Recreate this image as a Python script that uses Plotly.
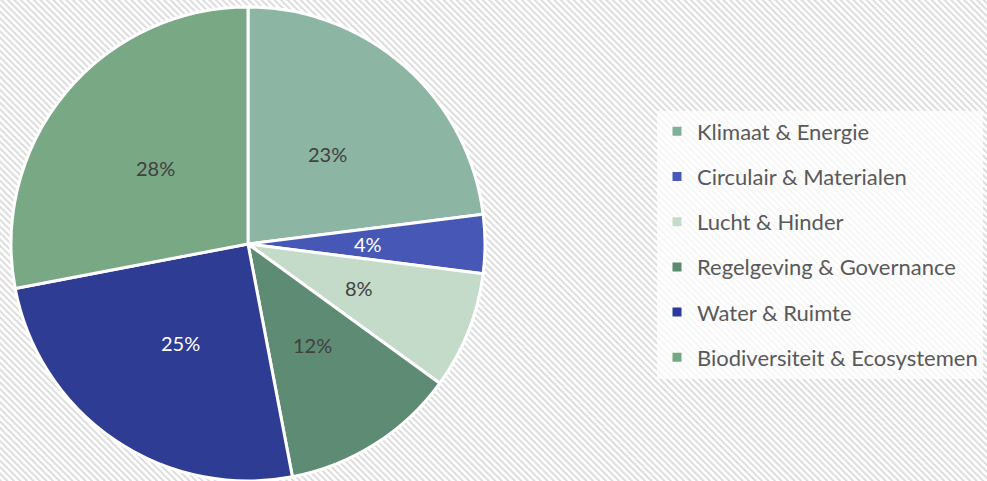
import base64
import math
import plotly.graph_objects as go

categories = ["Klimaat & Energie", "Circulair & Materialen", "Lucht & Hinder",
              "Regelgeving & Governance", "Water & Ruimte", "Biodiversiteit & Ecosystemen"]
values = [23, 4, 8, 12, 25, 28]
slice_colors = ["#8cb5a3", "#4657b6", "#c4dbc9", "#5e8b73", "#2e3c93", "#79a885"]
legend_colors = ["#80af9b", "#4a58b8", "#c6dccb", "#5a8a70", "#2b3a9a", "#74a882"]
text_colors = ["#404040", "#ffffff", "#404040", "#404040", "#ffffff", "#404040"]

W, H = 987, 481
font_family = "Lato, 'Open Sans', sans-serif"

# pie domain (paper fractions)
dom_x = [11 / W, 485 / W]
dom_y = [0, 474 / H]
label_radius_frac = 0.505

# diagonal hatch background
svg = f'''<svg xmlns="http://www.w3.org/2000/svg" width="{W}" height="{H}">
<defs><pattern id="p" width="4.6" height="4.6" patternUnits="userSpaceOnUse" patternTransform="rotate(-45)">
<rect width="4.6" height="4.6" fill="#ffffff"/><rect width="1.9" height="4.6" fill="#dcdcdc"/></pattern></defs>
<rect width="{W}" height="{H}" fill="url(#p)"/></svg>'''
bg_src = "data:image/svg+xml;base64," + base64.b64encode(svg.encode()).decode()

fig = go.Figure()
fig.add_trace(go.Pie(
    labels=categories, values=values, sort=False, direction="clockwise", rotation=0,
    marker=dict(colors=slice_colors, line=dict(color="#ffffff", width=3)),
    textinfo="none",
    domain=dict(x=dom_x, y=dom_y),
    showlegend=False, hoverinfo="label+percent",
))

for name, col in zip(categories, legend_colors):
    fig.add_trace(go.Scatter(
        x=[None], y=[None], mode="markers", name=name, legendgroup=name,
        marker=dict(symbol="square", size=9, color=col),
    ))

# percentage labels placed at half radius along each slice's mid-angle
total = sum(values)
cx = (dom_x[0] + dom_x[1]) / 2 * W
cy = (1 - (dom_y[0] + dom_y[1]) / 2) * H
r = min((dom_x[1] - dom_x[0]) * W, (dom_y[1] - dom_y[0]) * H) / 2
annotations = []
cum = 0
for v, tc in zip(values, text_colors):
    mid = (cum + v / 2) / total * 2 * math.pi
    cum += v
    d = label_radius_frac * r
    px = cx + d * math.sin(mid)
    py = cy - d * math.cos(mid)
    annotations.append(dict(
        x=px / W, y=1 - py / H, xref="paper", yref="paper", showarrow=False,
        text=f"{round(v / total * 100)}%", xanchor="center", yanchor="middle",
        font=dict(family=font_family, size=20, color=tc),
    ))

fig.update_layout(
    width=W, height=H, margin=dict(l=0, r=0, t=0, b=0),
    paper_bgcolor="#ffffff", plot_bgcolor="rgba(0,0,0,0)",
    xaxis=dict(visible=False), yaxis=dict(visible=False),
    images=[dict(source=bg_src, xref="paper", yref="paper", x=0, y=1, sizex=1, sizey=1,
                 sizing="stretch", layer="below", xanchor="left", yanchor="top")],
    annotations=annotations,
    legend=dict(x=657 / W, y=1 - 110.5 / H, xanchor="left", yanchor="top",
                bgcolor="rgba(255,255,255,0.75)", borderwidth=0,
                font=dict(family=font_family, size=22, color="#595959"),
                tracegroupgap=13.6, itemwidth=30),
    font=dict(family=font_family),
)

fig.write_html("out.html", config={"displayModeBar": False},
               post_script="document.body.style.margin='0';")
